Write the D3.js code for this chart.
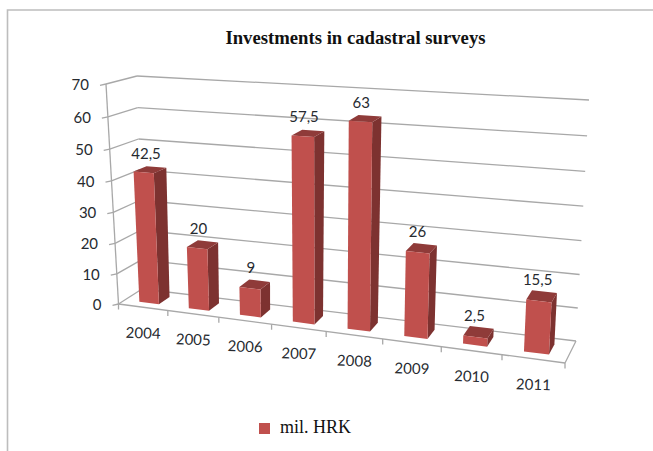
<!DOCTYPE html>
<html><head><meta charset="utf-8">
<script src="https://cdn.jsdelivr.net/npm/d3@7"></script>
<style>html,body{margin:0;padding:0;background:#fff}svg{display:block}</style>
</head><body><svg id="c" width="653" height="451"></svg>
<script>
const categories = ["2004","2005","2006","2007","2008","2009","2010","2011"];
const values = [42.5,20,9,57.5,63,26,2.5,15.5];
const valueTicks = [0,10,20,30,40,50,60,70];
const seriesName = "mil. HRK";
const chartTitle = "Investments in cadastral surveys";

const svg = d3.select("#c");
const GRID="#a8a8a8", FRONT="#c0504d", SIDE="#7d3230", TOP="#8f3b39", TEXT="#262a2f";

// scene corners: [front/back][bottom/top][left/right]
const C = {
  fbl:[118.5,304], ftl:[106,84],  fbr:[565,363], ftr:[578,115],
  bbl:[142,289],   btl:[137,76],  bbr:[576,341], btr:[589,100]
};
const persp = k => t => t/(k-(k-1)*t);
const pu = persp(1.15), pv = persp(1.05);
const band = d3.scaleBand().domain(categories).range([0,1]).paddingInner(0.6).paddingOuter(0.3);
const val = d3.scaleLinear().domain([0,70]).range([0,1]);
const lerp=(a,b,t)=>[a[0]+(b[0]-a[0])*t,a[1]+(b[1]-a[1])*t];
function P(u,v,w){
  const U=pu(u),V=pv(val(v));
  const fb=lerp(C.fbl,C.fbr,U), ft=lerp(C.ftl,C.ftr,U), bb=lerp(C.bbl,C.bbr,U), bt=lerp(C.btl,C.btr,U);
  return lerp(lerp(fb,ft,V),lerp(bb,bt,V),w);
}
const line=(a,b,sw)=>svg.append("line").attr("x1",a[0]).attr("y1",a[1]).attr("x2",b[0]).attr("y2",b[1]).attr("stroke",GRID).attr("stroke-width",sw||1.3);

// outer frame
svg.append("path").attr("d","M7.5,451V10H653").attr("fill","none").attr("stroke","#bdbdbd").attr("stroke-width",1.6);

// title
svg.append("text").attr("x",355.5).attr("y",44).attr("text-anchor","middle")
  .attr("font-family","Liberation Serif").attr("font-weight","bold").attr("font-size",18.7).attr("fill","#111").text(chartTitle);

// walls and value axis
valueTicks.forEach(t=>{
  const a=P(0,t,0), b=P(0,t,1), c=P(1,t,1);
  line(a,b); line(b,c);
  line([a[0]-6,a[1]+1.3],a);
  svg.append("text").attr("x",a[0]-17).attr("y",a[1]+6).attr("text-anchor","end")
    .attr("font-family","Lato").attr("font-size",15).attr("fill",TEXT).text(t);
});
line(P(0,0,0),P(0,70,0));
// floor
line(P(0,0,0),P(1,0,0)); line(P(1,0,0),P(1,0,1));
d3.range(categories.length+1).forEach(i=>{
  const a=P(i/categories.length,0,0);
  line(a,[a[0],a[1]+5.5]);
});
// category labels
categories.forEach((d,i)=>{
  const p=P(band(d)+band.bandwidth()/2,0,0);
  svg.append("text").attr("transform",`translate(${p[0]},${p[1]+31}) rotate(2)`).attr("text-anchor","middle")
    .attr("font-family","Lato").attr("font-size",15).attr("fill",TEXT).text(d);
});
// bars
const W0=0.27,W1=0.74;
const poly=pts=>"M"+pts.map(p=>p.join(",")).join("L")+"Z";
categories.forEach((d,i)=>{
  const u0=band(d),u1=u0+band.bandwidth(),v=values[i];
  const g=svg.append("g");
  g.append("path").attr("d",poly([P(u1,0,W0),P(u1,0,W1),P(u1,v,W1),P(u1,v,W0)])).attr("fill",SIDE);
  g.append("path").attr("d",poly([P(u0,v,W0),P(u1,v,W0),P(u1,v,W1),P(u0,v,W1)])).attr("fill",TOP);
  g.append("path").attr("d",poly([P(u0,0,W0),P(u1,0,W0),P(u1,v,W0),P(u0,v,W0)])).attr("fill",FRONT);
  const t=P((u0+u1)/2,v,(W0+W1)/2);
  svg.append("text").attr("x",t[0]-4).attr("y",t[1]-11).attr("text-anchor","middle")
    .attr("font-family","Lato").attr("font-size",15).attr("fill",TEXT).text(String(v).replace(".",","));
});
// legend
svg.append("rect").attr("x",259).attr("y",423).attr("width",11).attr("height",11).attr("fill",FRONT);
svg.append("text").attr("x",280).attr("y",433).attr("font-family","Liberation Serif").attr("font-size",18).attr("fill","#111").text(seriesName);
</script></body></html>
